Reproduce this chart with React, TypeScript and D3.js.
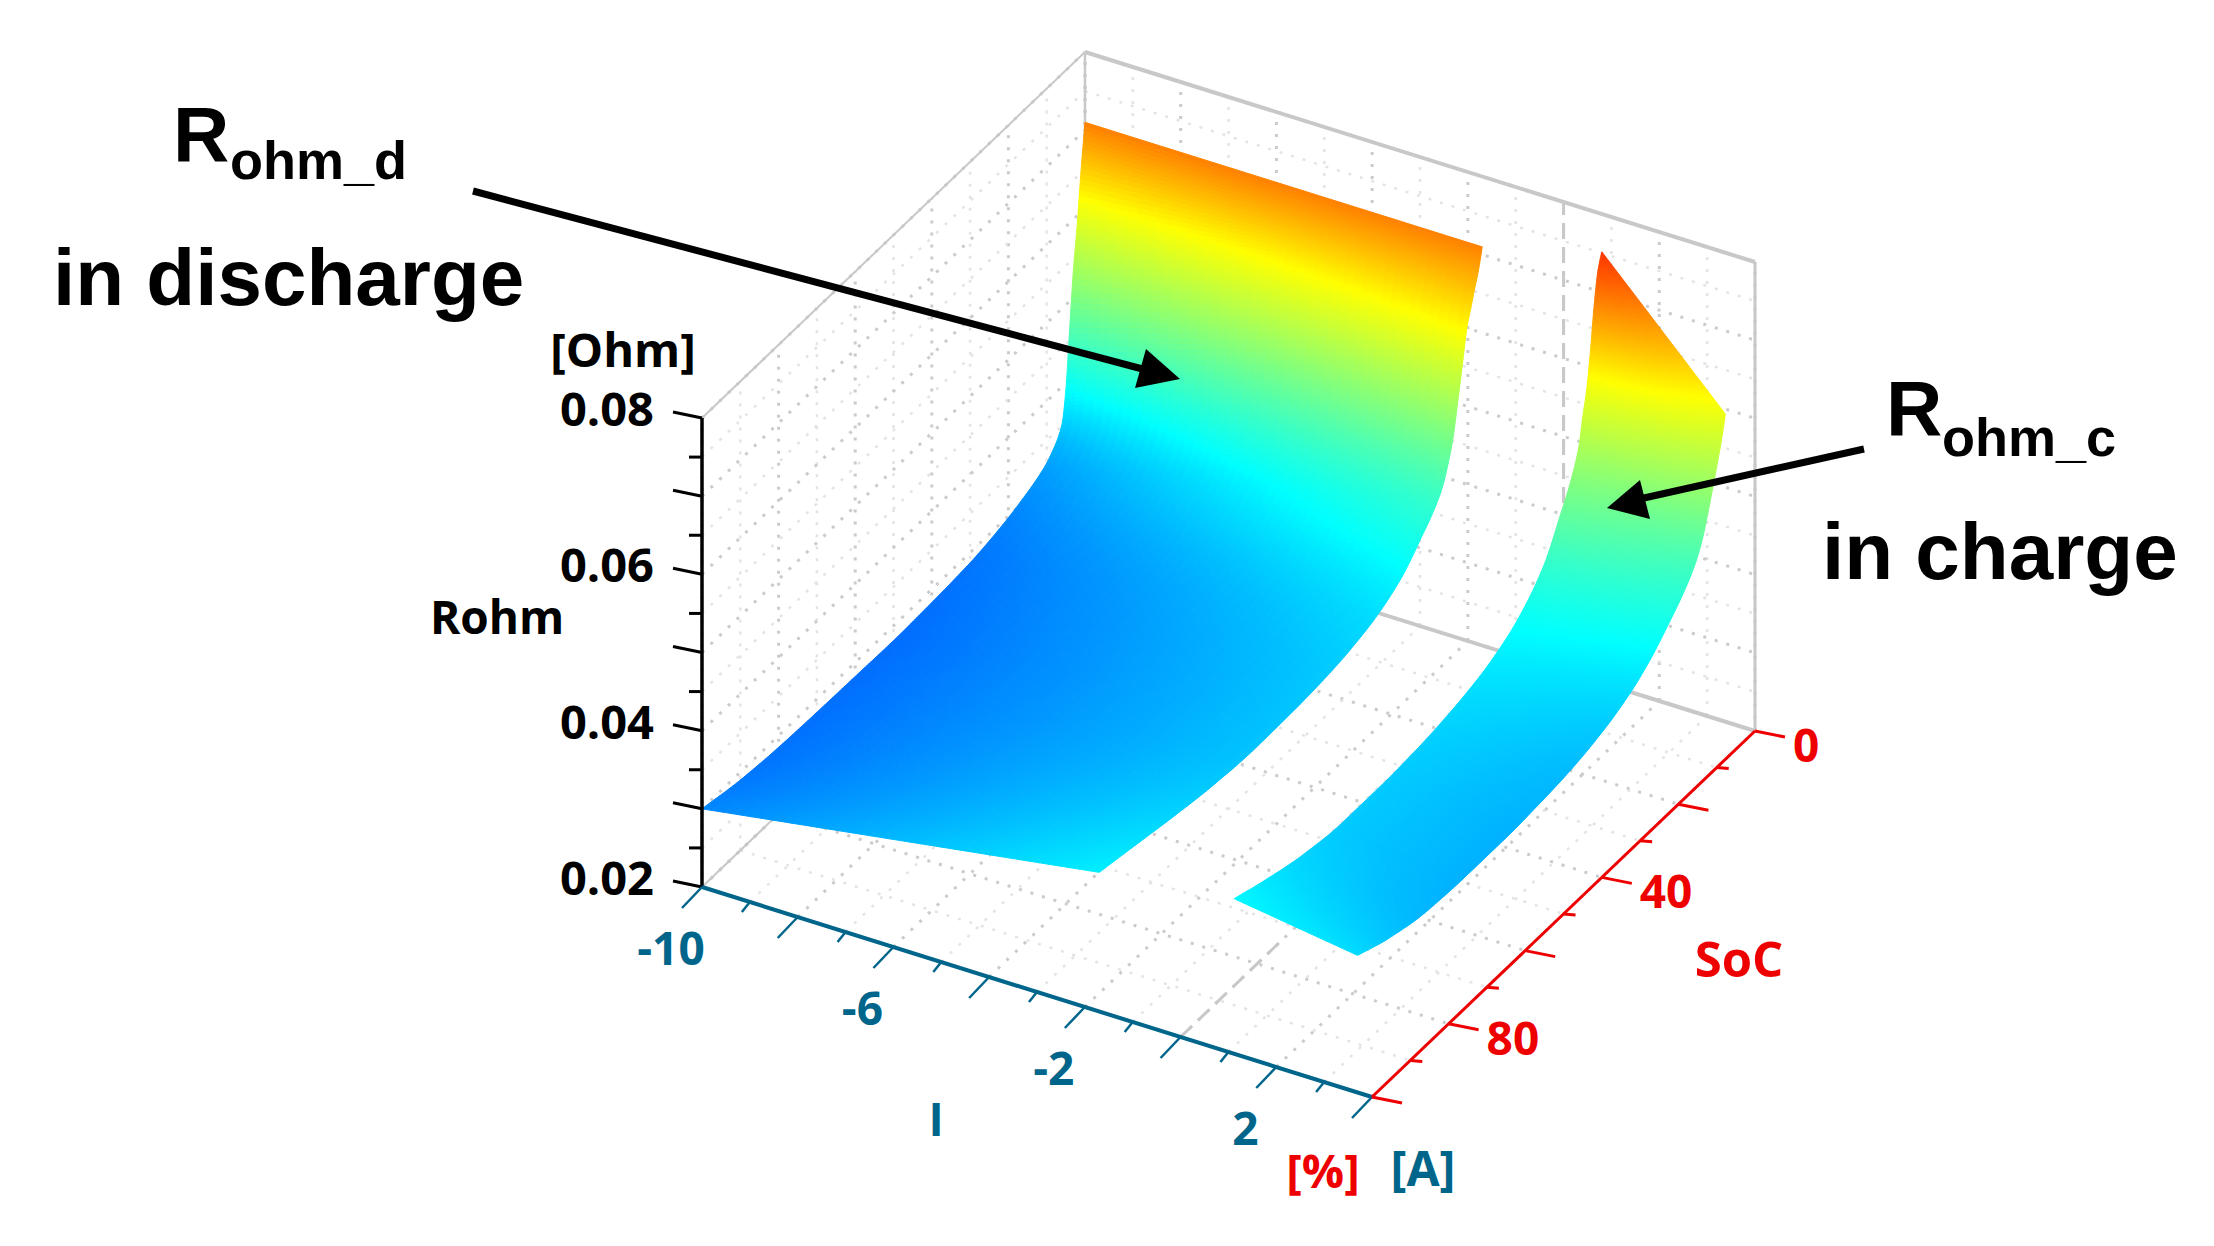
import React from 'react';
import * as d3 from 'd3';

// axis ranges
const iTicks = d3.range(-10, 5);
const socTicks = d3.range(0, 101, 10);
const zTicks = d3.range(0.02, 0.0801, 0.005);
const iLabels = [-10, -6, -2, 2];
const socLabels = [0, 40, 80];
const zLabels = [0.08, 0.06, 0.04, 0.02];

// discharge surface
const iDis = [-10, -1.7];
const socDis = [0, 1, 2, 3, 4, 5, 6, 8, 11, 16, 22, 30, 40, 50, 60, 70, 80, 90, 100];
const zDisLeft = [0.071, 0.0655, 0.059, 0.0537, 0.0465, 0.0391, 0.0352, 0.0332, 0.0317, 0.0305, 0.0295, 0.0287, 0.0283, 0.0281, 0.0282, 0.0283, 0.0285, 0.029, 0.03];
const zDisRight = [0.071, 0.0684, 0.0665, 0.0645, 0.0625, 0.059, 0.0555, 0.0492, 0.0445, 0.0412, 0.0382, 0.0362, 0.0351, 0.0347, 0.0346, 0.035, 0.0358, 0.0368, 0.0378];

// charge surface
const iChg = [0.96, 3.54];
const socChg = [2, 3, 4, 5, 6, 7, 8, 10, 13, 17, 22, 27, 34, 42, 50, 60, 70, 80, 90, 98];
const zChgLeft = [0.0764, 0.0745, 0.0705, 0.065, 0.0605, 0.0576, 0.0543, 0.051, 0.0476, 0.0435, 0.0405, 0.0386, 0.037, 0.036, 0.0354, 0.0351, 0.0351, 0.0358, 0.0372, 0.0386];
const zChgRight = [0.0606, 0.0578, 0.0555, 0.0533, 0.0512, 0.0492, 0.0474, 0.045, 0.0428, 0.0406, 0.0382, 0.0365, 0.035, 0.034, 0.0335, 0.0332, 0.0332, 0.0335, 0.0347, 0.0363];

const width = 2214;
const height = 1246;
const originX = 702;
const originY = 887;

const teal = '#00658a';
const red = '#ee0000';
const gridMinor = '#e4e4e4';
const gridMajor = '#cbcbcb';
const edge = '#c8c8c8';

const tickFont = '"Open Sans", sans-serif';
const noteFont = '"Liberation Sans", Arial, sans-serif';

// the plot is orthographic, so three pairs of linear scales are enough
const iX = d3.scaleLinear().domain([-10, 4]).range([0, 670]);
const iY = d3.scaleLinear().domain([-10, 4]).range([0, 210]);
const socX = d3.scaleLinear().domain([100, 0]).range([0, 383]);
const socY = d3.scaleLinear().domain([100, 0]).range([0, -366]);
const zY = d3.scaleLinear().domain([0.02, 0.08]).range([0, -469]);

const color = d3
  .scaleLinear<string>()
  .domain([0.02, 0.039, 0.062, 0.08])
  .range(['#0000ff', '#00ffff', '#ffff00', '#ff0000']);

const project = (i: number, s: number, z: number): [number, number] => [
  originX + iX(i) + socX(s),
  originY + iY(i) + socY(s) + zY(z),
];

const seg = (a: [number, number], b: [number, number]) =>
  ({ x1: a[0], y1: a[1], x2: b[0], y2: b[1] });

const poly = (pts: [number, number][]) => pts.map(p => p.join(',')).join(' ');

// smooth curve through the read points, so the outline does not kink
function hermite(xs: number[], ys: number[]) {
  const m = xs.map((x, k) => {
    if (k === 0) return (ys[1] - ys[0]) / (xs[1] - xs[0]);
    if (k === xs.length - 1) return (ys[k] - ys[k - 1]) / (x - xs[k - 1]);
    const a = (ys[k] - ys[k - 1]) / (x - xs[k - 1]);
    const b = (ys[k + 1] - ys[k]) / (xs[k + 1] - x);
    return a * b <= 0 ? 0 : (2 * a * b) / (a + b);
  });
  return (x: number) => {
    const k = Math.min(d3.bisectRight(xs, x) - 1, xs.length - 2);
    const h = xs[k + 1] - xs[k];
    const t = (x - xs[k]) / h;
    const t2 = t * t;
    const t3 = t2 * t;
    return (2 * t3 - 3 * t2 + 1) * ys[k] + (t3 - 2 * t2 + t) * h * m[k] + (-2 * t3 + 3 * t2) * ys[k + 1] + (t3 - t2) * h * m[k + 1];
  };
}

function Surface({ iRange, soc, zLeft, zRight }: { iRange: number[]; soc: number[]; zLeft: number[]; zRight: number[] }) {
  const left = hermite(soc, zLeft);
  const right = hermite(soc, zRight);
  const end = soc[soc.length - 1];
  // fine rows where the surface is steep
  const steps = [...d3.range(soc[0], 12, 0.1), ...d3.range(12, end + 0.001, 0.5)];
  const cols = d3.range(0, 1.0001, 1 / 40);
  const cells: React.ReactNode[] = [];
  const at = (s: number, t: number) => {
    const i = iRange[0] + (iRange[1] - iRange[0]) * t;
    const z = left(s) + (right(s) - left(s)) * t;
    return { p: project(i, s, z), z };
  };
  steps.slice(1).forEach((s, r) => {
    const s0 = steps[r];
    cols.slice(1).forEach((t, c) => {
      const t0 = cols[c];
      const q = [at(s0, t0), at(s0, t), at(s, t), at(s, t0)];
      const fill = color(d3.mean(q, d => d.z) as number);
      cells.push(
        <polygon key={r + '-' + c} points={poly(q.map(d => d.p))} fill={fill} stroke={fill} strokeWidth={1} />
      );
    });
  });
  return <g>{cells}</g>;
}

function Grid() {
  const dotted = (key: string, a: [number, number], b: [number, number], major: boolean) => (
    <line key={key} {...seg(a, b)} stroke={major ? gridMajor : gridMinor} strokeWidth={major ? 3 : 2.5} strokeDasharray="3 9" />
  );
  const lines: React.ReactNode[] = [];
  socTicks.forEach((s, k) => {
    const major = k % 2 === 0;
    lines.push(dotted('wl' + s, project(-10, s, 0.02), project(-10, s, 0.08), major));
    lines.push(dotted('fl' + s, project(-10, s, 0.02), project(4, s, 0.02), major));
  });
  iTicks.forEach((i, k) => {
    const major = k % 2 === 0;
    lines.push(dotted('wb' + i, project(i, 0, 0.02), project(i, 0, 0.08), major));
    lines.push(dotted('fi' + i, project(i, 100, 0.02), project(i, 0, 0.02), major));
  });
  zTicks.forEach((z, k) => {
    const major = k % 2 === 0;
    lines.push(dotted('zl' + k, project(-10, 100, z), project(-10, 0, z), major));
    lines.push(dotted('zb' + k, project(-10, 0, z), project(4, 0, z), major));
  });
  return <g>{lines}</g>;
}

function Box() {
  return (
    <g stroke={edge} fill="none">
      <line {...seg(project(-10, 100, 0.08), project(-10, 0, 0.08))} strokeWidth={2} />
      <line {...seg(project(-10, 0, 0.08), project(4, 0, 0.08))} strokeWidth={4} />
      <line {...seg(project(-10, 0, 0.02), project(-10, 0, 0.08))} strokeWidth={2.5} />
      <line {...seg(project(4, 0, 0.02), project(4, 0, 0.08))} strokeWidth={3} />
      <line {...seg(project(-10, 0, 0.02), project(4, 0, 0.02))} strokeWidth={4} />
      <line {...seg(project(-10, 100, 0.02), project(-10, 0, 0.02))} strokeWidth={2} />
      <line {...seg(project(0, 0, 0.02), project(0, 0, 0.08))} strokeWidth={3} strokeDasharray="16 8" />
      <line {...seg(project(0, 100, 0.02), project(0, 73, 0.02))} strokeWidth={3} strokeDasharray="16 8" />
    </g>
  );
}

function Axes() {
  const zA = project(-10, 100, 0.08);
  const zB = project(-10, 100, 0.02);
  return (
    <g>
      {/* z axis */}
      <line {...seg(zA, zB)} stroke="#000" strokeWidth={3.5} />
      {zTicks.map((z, k) => {
        const [x, y] = project(-10, 100, z);
        const major = k % 2 === 0;
        return (
          <line key={k} x1={x} y1={y} x2={x - (major ? 29 : 13)} y2={y - (major ? 6 : 0)} stroke="#000" strokeWidth={3} />
        );
      })}
      {zLabels.map(z => {
        const [x, y] = project(-10, 100, z);
        return (
          <text key={z} x={x - 48} y={y + 8} textAnchor="end" fontFamily={tickFont} fontWeight={700} fontSize={47} fill="#000">
            {z.toFixed(2)}
          </text>
        );
      })}

      {/* current axis */}
      <line {...seg(project(-10, 100, 0.02), project(4, 100, 0.02))} stroke={teal} strokeWidth={4} />
      {iTicks.map((i, k) => {
        const [x, y] = project(i, 100, 0.02);
        const major = k % 2 === 0;
        return (
          <line key={i} x1={x} y1={y} x2={x - (major ? 20 : 8)} y2={y + (major ? 21 : 10)} stroke={teal} strokeWidth={2.5} />
        );
      })}
      {iLabels.map(i => {
        const [x, y] = project(i, 100, 0.02);
        return (
          <text key={i} x={x - 31} y={y + 78} textAnchor="middle" fontFamily={tickFont} fontWeight={700} fontSize={46} fill={teal}>
            {i}
          </text>
        );
      })}

      {/* SoC axis */}
      <line {...seg(project(4, 100, 0.02), project(4, 0, 0.02))} stroke={red} strokeWidth={3} />
      {socTicks.map((s, k) => {
        const [x, y] = project(4, s, 0.02);
        const major = k % 2 === 0;
        return (
          <line key={s} x1={x} y1={y} x2={x + (major ? 30 : 12)} y2={y + (major ? 6 : 1)} stroke={red} strokeWidth={3} />
        );
      })}
      {socLabels.map(s => {
        const [x, y] = project(4, s, 0.02);
        return (
          <text key={s} x={x + 38} y={y + 31} fontFamily={tickFont} fontWeight={700} fontSize={46} fill={red}>
            {s}
          </text>
        );
      })}
    </g>
  );
}

function Titles() {
  const t = { fontFamily: tickFont, fontWeight: 700, textAnchor: 'middle' as const };
  return (
    <g>
      <text {...t} x={623} y={367} fontSize={47} fill="#000">[Ohm]</text>
      <text {...t} x={497} y={634} fontSize={46} fill="#000">Rohm</text>
      <text {...t} x={936} y={1136} fontSize={46} fill={teal}>I</text>
      <text {...t} x={1423} y={1186} fontSize={48} fill={teal}>[A]</text>
      <text {...t} x={1323} y={1188} fontSize={47} fill={red}>[%]</text>
      <text {...t} x={1739} y={977} fontSize={49} fill={red}>SoC</text>
    </g>
  );
}

function Notes() {
  const t = { fontFamily: noteFont, fontWeight: 700, fill: '#000' };
  return (
    <g>
      <text {...t} x={173} y={161} fontSize={78}>R</text>
      <text {...t} x={230} y={179} fontSize={54}>ohm_d</text>
      <text {...t} x={53} y={305} fontSize={80}>in discharge</text>
      <text {...t} x={1886} y={435} fontSize={78}>R</text>
      <text {...t} x={1942} y={456} fontSize={54}>ohm_c</text>
      <text {...t} x={1822} y={579} fontSize={80}>in charge</text>

      <line x1={473} y1={191} x2={1150} y2={371} stroke="#000" strokeWidth={7} />
      <polygon points="1180,379 1146,349 1135,388" fill="#000" />
      <line x1={1864} y1={449} x2={1635} y2={500} stroke="#000" strokeWidth={7} />
      <polygon points="1607,508 1640,480 1650,519" fill="#000" />
    </g>
  );
}

export default function App() {
  return (
    <svg width={width} height={height} style={{ position: 'absolute', left: 0, top: 0, background: '#fff' }}>
      <Grid />
      <Box />
      <Surface iRange={iDis} soc={socDis} zLeft={zDisLeft} zRight={zDisRight} />
      <Surface iRange={iChg} soc={socChg} zLeft={zChgLeft} zRight={zChgRight} />
      <Axes />
      <Titles />
      <Notes />
    </svg>
  );
}
